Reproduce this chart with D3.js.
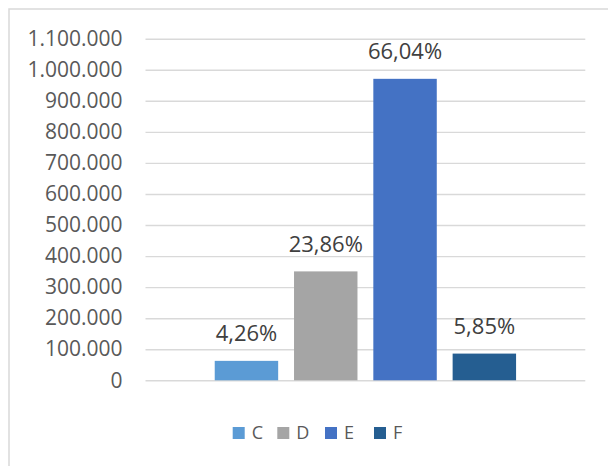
<!DOCTYPE html>
<html>
<head>
<meta charset="utf-8">
<script src="https://cdn.jsdelivr.net/npm/d3@7.9.0/dist/d3.min.js"></script>
<style>
  html, body { margin: 0; padding: 0; background: #fff; }
  svg { display: block; font-family: "Open Sans", "Noto Sans", sans-serif; }
</style>
</head>
<body>
<div id="chart"></div>
<script>
// series (one category, four series)
const series = ['C', 'D', 'E', 'F'];
const values = [62600, 350700, 970800, 86000];
const shares = [4.26, 23.86, 66.04, 5.85];
const colors = ['#5b9bd5', '#a5a5a5', '#4472c4', '#255e91'];
const yTicks = [0, 100000, 200000, 300000, 400000, 500000, 600000, 700000, 800000, 900000, 1000000, 1100000];

const width = 608;
const height = 466;
const plot = { left: 145.5, right: 585.3, top: 38.7, bottom: 380.3 };

// european number style: 1.100.000 and 4,26
const loc = d3.formatLocale({ decimal: ',', thousands: '.', grouping: [3], currency: ['', '€'] });
const fmtTick = loc.format(',d');
const fmtPct = (d) => loc.format('.2f')(d) + '%';

const svg = d3.select('#chart')
  .append('svg')
  .attr('width', width)
  .attr('height', height);

// chart border (runs off the right and bottom of the window)
svg.append('rect')
  .attr('x', 9)
  .attr('y', 9)
  .attr('width', 640)
  .attr('height', 500)
  .attr('fill', '#fff')
  .attr('stroke', '#d9d9d9')
  .attr('stroke-width', 1.5);

const xScale = d3.scaleBand()
  .domain(series)
  .range([plot.left, plot.right])
  .paddingInner(0.2)
  .paddingOuter(0.873);

const yScale = d3.scaleLinear()
  .domain([0, 1100000])
  .range([plot.bottom, plot.top]);

// gridlines
const grid = svg.append('g')
  .attr('transform', `translate(${plot.left},0)`)
  .call(d3.axisLeft(yScale).tickValues(yTicks).tickFormat('').tickSize(-(plot.right - plot.left)));
grid.select('.domain').remove();
grid.selectAll('line').attr('stroke', '#d9d9d9').attr('stroke-width', 1.4);

// y axis labels
const yAxis = svg.append('g')
  .attr('transform', `translate(${plot.left},0)`)
  .call(d3.axisLeft(yScale).tickValues(yTicks).tickFormat(fmtTick).tickSize(0).tickPadding(23));
yAxis.select('.domain').remove();
yAxis.selectAll('text')
  .attr('fill', '#595959')
  .style('font-size', '21px')
  .style('font-family', '"Open Sans", sans-serif');

// bars
svg.append('g')
  .selectAll('rect')
  .data(series)
  .join('rect')
  .attr('x', (d) => xScale(d))
  .attr('y', (d, i) => yScale(values[i]))
  .attr('width', xScale.bandwidth())
  .attr('height', (d, i) => yScale(0) - yScale(values[i]))
  .attr('fill', (d, i) => colors[i]);

// data labels
svg.append('g')
  .selectAll('text')
  .data(series)
  .join('text')
  .attr('x', (d) => xScale(d) + xScale.bandwidth() / 2)
  .attr('y', (d, i) => yScale(values[i]) - 19.5)
  .attr('text-anchor', 'middle')
  .attr('fill', '#404040')
  .style('font-size', '22px')
  .text((d, i) => fmtPct(shares[i]));

// legend
const legendX = [232.7, 277.3, 325, 374];
const legend = svg.append('g')
  .selectAll('g')
  .data(series)
  .join('g')
  .attr('transform', (d, i) => `translate(${legendX[i]},427)`);
legend.append('rect')
  .attr('width', 12)
  .attr('height', 12)
  .attr('fill', (d, i) => colors[i]);
legend.append('text')
  .attr('x', 19)
  .attr('y', 12.3)
  .attr('fill', '#595959')
  .style('font-size', '18px')
  .text((d) => d);
</script>
</body>
</html>
